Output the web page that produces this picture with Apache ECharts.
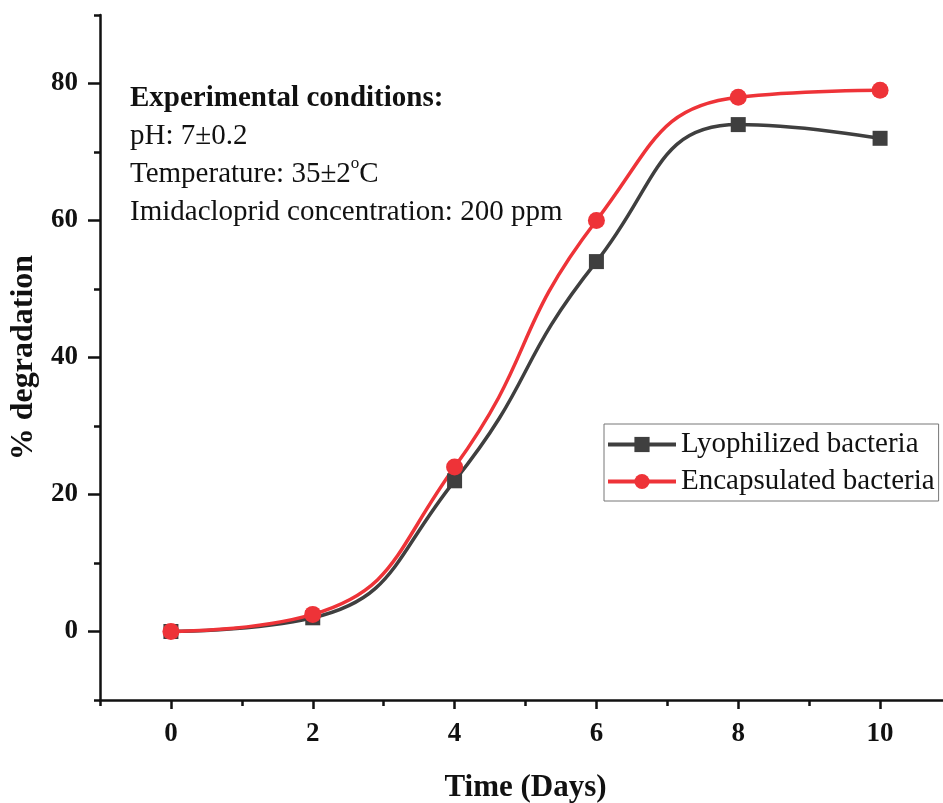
<!DOCTYPE html>
<html>
<head>
<meta charset="UTF-8">
<title>Degradation</title>
<script src="https://cdn.jsdelivr.net/npm/echarts@6/dist/echarts.min.js"></script>
<style type="text/css">
  *{margin:0;padding:0;}
  body{background:#fff;}
  #main{width:943px;height:803px;}
</style>
</head>
<body>
<div id="main"></div>
<script type="text/javascript">
// data
var days = [0, 2, 4, 6, 8, 10];
var lyophilized = [0, 2, 22, 54, 74, 72];
var encapsulated = [0, 2.5, 24, 60, 78, 79];
var xMajorTicks = [0, 2, 4, 6, 8, 10];
var yMajorTicks = [0, 20, 40, 60, 80];

var serif = '"Liberation Serif", "Times New Roman", serif';
var axisColor = '#111';

function pairs(xs, ys) {
  var out = [];
  for (var i = 0; i < xs.length; i++) out.push([xs[i], ys[i]]);
  return out;
}

var myChart = echarts.init(document.getElementById('main'));

var option = {
  animation: false,
  backgroundColor: '#fff',
  grid: { left: 100, top: 15, width: 851, height: 685, outerBoundsMode: 'none', containLabel: false },
  legend: {
    left: 604, top: 424,
    orient: 'vertical',
    itemWidth: 68, itemHeight: 19, itemGap: 8,
    padding: [6, 4, 5, 2],
    borderColor: '#777', borderWidth: 1,
    lineStyle: { width: 4 },
    textStyle: { fontFamily: serif, fontSize: 29, color: '#111' },
    data: ['Lyophilized bacteria', 'Encapsulated bacteria']
  },
  xAxis: [
    {
      type: 'value', min: -1, max: 11,
      name: 'Time (Days)', nameLocation: 'middle', nameGap: 72,
      nameTextStyle: { fontFamily: serif, fontSize: 31, fontWeight: 'bold', color: '#111' },
      splitLine: { show: false },
      axisLine: { onZero: false, lineStyle: { color: axisColor, width: 2.5 } },
      axisTick: { customValues: xMajorTicks, length: 9, lineStyle: { color: axisColor, width: 2.5 } },
      axisLabel: { customValues: xMajorTicks, margin: 21, fontFamily: serif, fontSize: 27, fontWeight: 'bold', color: '#111' }
    },
    {
      type: 'value', min: -1, max: 11, interval: 1, position: 'bottom',
      splitLine: { show: false },
      axisLine: { show: false, onZero: false },
      axisTick: { length: 6, lineStyle: { color: axisColor, width: 2.5 } },
      axisLabel: { show: false }
    }
  ],
  yAxis: [
    {
      type: 'value', min: -10, max: 90,
      name: '% degradation', nameLocation: 'middle', nameGap: 56,
      nameTextStyle: { fontFamily: serif, fontSize: 32, fontWeight: 'bold', color: '#111' },
      splitLine: { show: false },
      axisLine: { onZero: false, lineStyle: { color: axisColor, width: 2.5 } },
      axisTick: { customValues: yMajorTicks, length: 12, lineStyle: { color: axisColor, width: 2.5 } },
      axisLabel: { customValues: yMajorTicks, margin: 22, fontFamily: serif, fontSize: 27, fontWeight: 'bold', color: '#111' }
    },
    {
      type: 'value', min: -10, max: 90, interval: 10, position: 'left',
      splitLine: { show: false },
      axisLine: { show: false, onZero: false },
      axisTick: { length: 6, lineStyle: { color: axisColor, width: 2.5 } },
      axisLabel: { show: false }
    }
  ],
  graphic: [{
    type: 'text', left: 130, top: 81,
    style: {
      text: '{b|Experimental conditions:}\n{r|pH: 7±0.2}\n{r|Temperature: 35±2}{s|o}{r|C}\n{r|Imidacloprid concentration: 200 ppm}',
      fontFamily: serif, fontSize: 29, fill: '#111', lineHeight: 38,
      rich: {
        b: { fontFamily: serif, fontSize: 29, fontWeight: 'bold', fill: '#111', lineHeight: 36 },
        r: { fontFamily: serif, fontSize: 29, fill: '#111', lineHeight: 38 },
        s: { fontFamily: serif, fontSize: 17, fill: '#111', verticalAlign: 'top', lineHeight: 38, padding: [0, 0, 14, 0] }
      }
    }
  }],
  series: [
    {
      name: 'Lyophilized bacteria', type: 'line', smooth: 0.5,
      xAxisIndex: 0, yAxisIndex: 0,
      data: pairs(days, lyophilized),
      symbol: 'rect', symbolSize: 15,
      lineStyle: { color: '#3f3f3f', width: 3.5 },
      itemStyle: { color: '#3f3f3f' }
    },
    {
      name: 'Encapsulated bacteria', type: 'line', smooth: 0.5,
      xAxisIndex: 0, yAxisIndex: 0,
      data: pairs(days, encapsulated),
      symbol: 'circle', symbolSize: 17,
      lineStyle: { color: '#ee3338', width: 3.5 },
      itemStyle: { color: '#ee3338' }
    }
  ]
};

myChart.setOption(option);
</script>
</body>
</html>
